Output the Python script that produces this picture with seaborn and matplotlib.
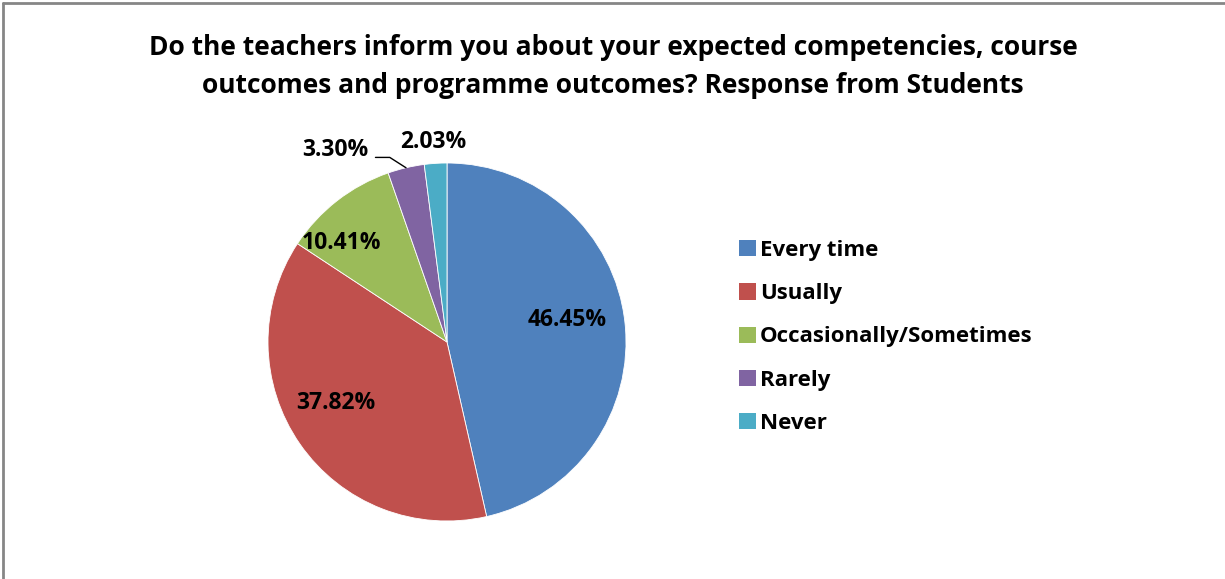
import matplotlib
matplotlib.use("Agg")
import matplotlib.pyplot as plt
import seaborn as sns
import numpy as np
from matplotlib.lines import Line2D

sns.set_theme(style="white")
plt.rcParams['font.family'] = ['Open Sans', 'DejaVu Sans']
plt.rcParams['text.color'] = 'black'

categories = ["Every time", "Usually", "Occasionally/Sometimes", "Rarely", "Never"]
values = [46.45, 37.82, 10.41, 3.30, 2.03]
colors = ["#4F81BD", "#C0504D", "#9BBB59", "#8064A2", "#4BACC6"]
title = ("Do the teachers inform you about your expected competencies, course\n"
         "outcomes and programme outcomes? Response from Students")

# label placement style (radius, angle offset in degrees) per slice
label_r = [0.68, 0.71, 0.81, 1.24, 1.12]
label_dang = [4.0, -6.0, 9.0, 17.0, 0.3]

W, H = 1225, 579
fig = plt.figure(figsize=(W / 100, H / 100), dpi=100)
cx, cy, R = 447, 342, 179
ax = fig.add_axes([(cx - R) / W, (H - cy - R) / H, 2 * R / W, 2 * R / H])

wedges, _ = ax.pie(values, colors=colors, startangle=90, counterclock=False,
                   wedgeprops=dict(linewidth=0.6, edgecolor="white"), radius=1.0)
ax.set_xlim(-1, 1)
ax.set_ylim(-1, 1)
ax.set_aspect("equal")
ax.axis("off")

for i, (w, v) in enumerate(zip(wedges, values)):
    mid = (w.theta1 + w.theta2) / 2
    a = np.deg2rad(mid + label_dang[i])
    x, y = label_r[i] * np.cos(a), label_r[i] * np.sin(a)
    ax.text(x, y, f"{v:.2f}%", ha="center", va="center", fontsize=16.5,
            fontweight="bold", color="black", clip_on=False)
    if label_r[i] > 1.2:
        am = np.deg2rad(mid)
        ex, ey = np.cos(am), np.sin(am)
        tx = x + 0.225
        ax.add_line(Line2D([tx, tx + 0.08, ex * 1.0], [y - 0.04, y - 0.04, ey], color="black",
                           linewidth=1.0, clip_on=False))

handles = [plt.Rectangle((0, 0), 1, 1, facecolor=c, edgecolor="none") for c in colors]
leg = fig.legend(handles, categories, loc="upper left", bbox_to_anchor=(719 / W, 1 - 220 / H),
                 frameon=False, handlelength=0.75, handleheight=0.75, handletextpad=0.2,
                 labelspacing=1.0, prop=dict(weight="bold", size=16))

fig.text(613 / W, 1 - 66.5 / H, title, ha="center", va="center", fontsize=19,
         fontweight="bold", linespacing=1.5)

# chart area border (left and top visible)
fig.add_artist(Line2D([2.5 / W, 2.5 / W], [0, 1 - 2.5 / H], color="#868686", linewidth=2,
                      transform=fig.transFigure))
fig.add_artist(Line2D([2.5 / W, 1], [1 - 2.5 / H, 1 - 2.5 / H], color="#868686", linewidth=2,
                      transform=fig.transFigure))

fig.savefig("out.png", dpi=100, facecolor="white")
